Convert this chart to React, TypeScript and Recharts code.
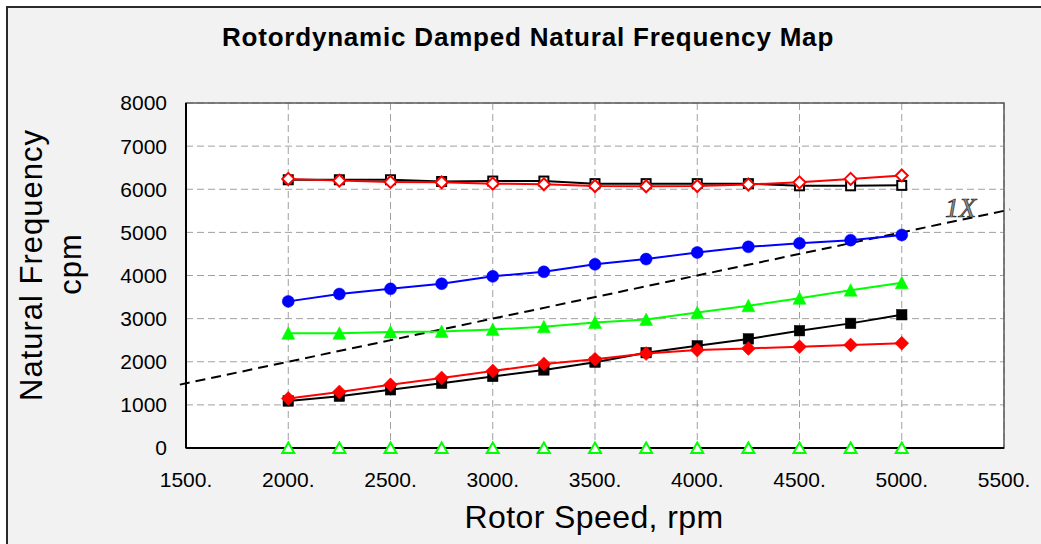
import React from "react"
import { LineChart, Line, XAxis, YAxis, CartesianGrid, ReferenceLine, ReferenceArea } from "recharts"

// rotor speeds (rpm) where the natural frequencies were computed
const speeds = [2000, 2250, 2500, 2750, 3000, 3250, 3500, 3750, 4000, 4250, 4500, 4750, 5000]

// damped natural frequencies, cpm
const blackOpenFreq = [6220, 6220, 6220, 6180, 6190, 6190, 6130, 6130, 6130, 6130, 6080, 6080, 6090]
const redOpenFreq = [6240, 6200, 6170, 6160, 6130, 6115, 6075, 6070, 6075, 6110, 6160, 6240, 6320]
const blueFreq = [3400, 3570, 3690, 3810, 3980, 4085, 4260, 4380, 4535, 4665, 4745, 4820, 4940]
const greenFilledFreq = [2660, 2660, 2690, 2700, 2750, 2810, 2910, 2980, 3140, 3300, 3470, 3660, 3830]
const blackFilledFreq = [1090, 1200, 1350, 1500, 1660, 1810, 1990, 2210, 2370, 2530, 2720, 2890, 3090]
const redFilledFreq = [1150, 1300, 1465, 1625, 1785, 1950, 2060, 2190, 2270, 2310, 2350, 2390, 2430]
const greenOpenFreq = [0, 0, 0, 0, 0, 0, 0, 0, 0, 0, 0, 0, 0]

// 1X synchronous excitation line end points (rpm = cpm)
const oneXSpeeds = [1470, 5530]

const xTicks = [1500, 2000, 2500, 3000, 3500, 4000, 4500, 5000, 5500]
const yTicks = [0, 1000, 2000, 3000, 4000, 5000, 6000, 7000, 8000]

const data = speeds.map((rpm, i) => ({
  rpm,
  blackOpen: blackOpenFreq[i],
  redOpen: redOpenFreq[i],
  blue: blueFreq[i],
  greenFilled: greenFilledFreq[i],
  blackFilled: blackFilledFreq[i],
  redFilled: redFilledFreq[i],
  greenOpen: greenOpenFreq[i],
}))

const FONT = "'Liberation Sans', Arial, sans-serif"

type Shape = "square" | "diamond" | "triangle" | "circle"

const makeDot = (shape: Shape, color: string, filled: boolean) => (p: any) => {
  const { cx, cy, index } = p
  const key = `${shape}-${color}-${filled}-${index}`
  if (cx == null || cy == null) return <g key={key} />
  const fill = filled ? color : "#fff"
  const stroke = color
  const sw = filled ? 0.5 : 2
  if (shape === "square") {
    const s = filled ? 10.5 : 9
    return <rect key={key} x={cx - s / 2} y={cy - s / 2} width={s} height={s} fill={fill} stroke={stroke} strokeWidth={sw} />
  }
  if (shape === "diamond") {
    const r = filled ? 7 : 6
    return <polygon key={key} points={`${cx},${cy - r} ${cx + r},${cy} ${cx},${cy + r} ${cx - r},${cy}`} fill={fill} stroke={stroke} strokeWidth={sw} />
  }
  if (shape === "triangle") {
    const h = filled ? 6.5 : 5.5
    const w = filled ? 6.5 : 6
    return <polygon key={key} points={`${cx},${cy - h} ${cx + w},${cy + h - 0.5} ${cx - w},${cy + h - 0.5}`} fill={fill} stroke={stroke} strokeWidth={sw} />
  }
  return <circle key={key} cx={cx} cy={cy} r={6} fill={fill} stroke={stroke} strokeWidth={sw} />
}

export default function App() {
  return (
    <div
      style={{
        position: "absolute",
        left: 6,
        top: 6,
        width: 1035,
        height: 538,
        borderTop: "2px solid #2a2a2a",
        borderLeft: "2px solid #2a2a2a",
        background: "#f2f2f2",
        fontFamily: FONT,
      }}
    >
      <LineChart width={1033} height={536} data={data} margin={{ top: 95, right: 37, bottom: 0, left: 0 }}>
        <CartesianGrid
          stroke="#a0a0a0"
          strokeDasharray="7 4"
          fill="#ffffff"
          fillOpacity={1}
          horizontalValues={yTicks}
          verticalValues={xTicks}
        />
        <ReferenceArea x1={1500} x2={5500} y1={0} y2={8000} fill="none" stroke="#5a5a5a" strokeWidth={1.5} />
        <XAxis
          dataKey="rpm"
          type="number"
          domain={[1500, 5500]}
          ticks={xTicks}
          tickFormatter={(v: number) => `${v}.`}
          height={96}
          tickLine={false}
          tickSize={0}
          tickMargin={24}
          axisLine={{ stroke: "#000", strokeWidth: 2 }}
          tick={{ fill: "#000", fontSize: 21, fontFamily: FONT }}
        />
        <YAxis
          type="number"
          domain={[0, 8000]}
          ticks={yTicks}
          width={178}
          tickLine={false}
          tickSize={0}
          tickMargin={19}
          axisLine={{ stroke: "#000", strokeWidth: 2 }}
          tick={{ fill: "#000", fontSize: 21, fontFamily: FONT }}
        />
        <ReferenceLine
          segment={[
            { x: oneXSpeeds[0], y: oneXSpeeds[0] },
            { x: oneXSpeeds[1], y: oneXSpeeds[1] },
          ]}
          ifOverflow="visible"
          stroke="#000"
          strokeWidth={2}
          strokeDasharray="10 6"
        />
        <Line dataKey="blackOpen" stroke="#000" strokeWidth={2} dot={makeDot("square", "#000", false)} isAnimationActive={false} />
        <Line dataKey="redOpen" stroke="#ff0000" strokeWidth={2} dot={makeDot("diamond", "#ff0000", false)} isAnimationActive={false} />
        <Line dataKey="blue" stroke="#0000ff" strokeWidth={2} dot={makeDot("circle", "#0000ff", true)} isAnimationActive={false} />
        <Line dataKey="greenFilled" stroke="#00ff00" strokeWidth={2} dot={makeDot("triangle", "#00ff00", true)} isAnimationActive={false} />
        <Line dataKey="blackFilled" stroke="#000" strokeWidth={2} dot={makeDot("square", "#000", true)} isAnimationActive={false} />
        <Line dataKey="redFilled" stroke="#ff0000" strokeWidth={2} dot={makeDot("diamond", "#ff0000", true)} isAnimationActive={false} />
        <Line dataKey="greenOpen" stroke="#00ff00" strokeWidth={2.2} dot={makeDot("triangle", "#00ff00", false)} isAnimationActive={false} />
      </LineChart>

      {/* titles and annotation text */}
      <svg width={1033} height={536} style={{ position: "absolute", left: 0, top: 0, pointerEvents: "none" }}>
        <text x={520} y={38} textAnchor="middle" fontSize={26} fontWeight="bold" letterSpacing={0.8} fontFamily={FONT} fill="#000">
          Rotordynamic Damped Natural Frequency Map
        </text>
        <text x={586} y={520} textAnchor="middle" fontSize={32} letterSpacing={0.4} fontFamily={FONT} fill="#000">
          Rotor Speed, rpm
        </text>
        <text x={34} y={257} textAnchor="middle" fontSize={31} letterSpacing={1} fontFamily={FONT} fill="#000" transform="rotate(-90 34 257)">
          Natural Frequency
        </text>
        <text x={73} y={256} textAnchor="middle" fontSize={31} letterSpacing={1} fontFamily={FONT} fill="#000" transform="rotate(-90 73 256)">
          cpm
        </text>
        <text x={937} y={209} fontSize={28} fontStyle="italic" fontFamily="'Liberation Serif', 'Times New Roman', serif" fill="#8c8c8c" stroke="#2a2a2a" strokeWidth={0.7}>
          1X
        </text>
      </svg>
    </div>
  )
}
